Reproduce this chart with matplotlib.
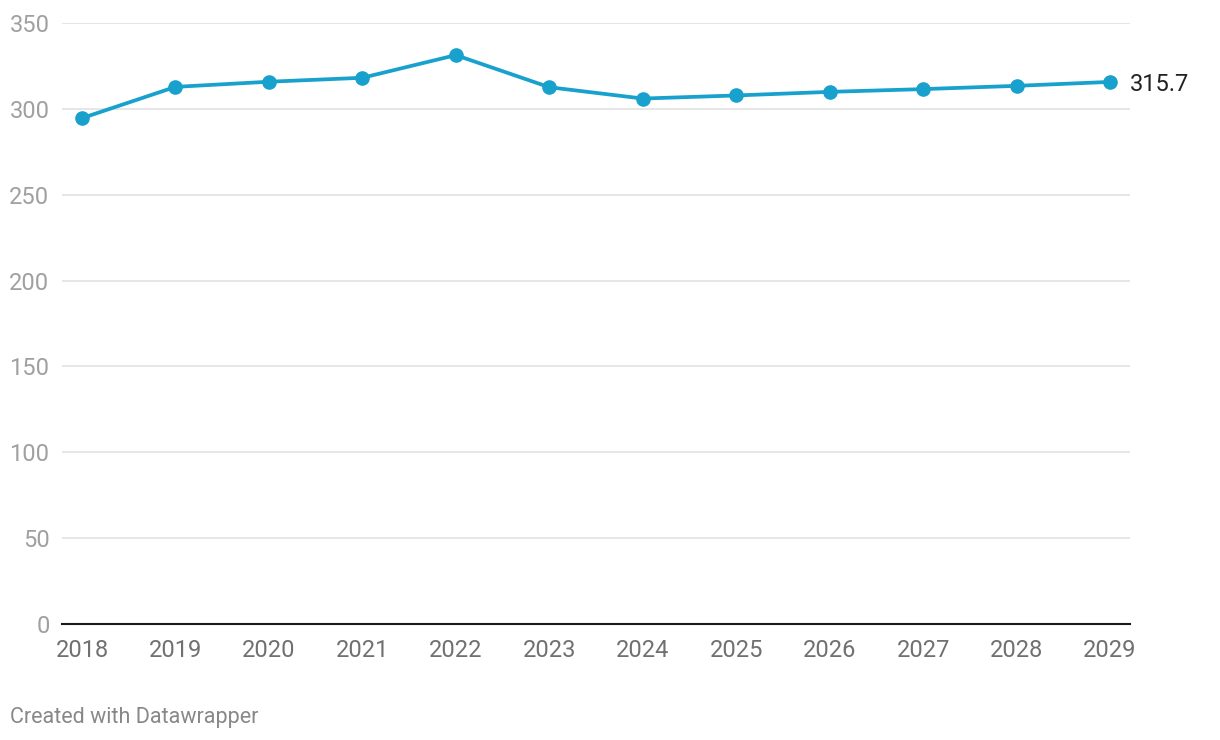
import matplotlib
matplotlib.use('Agg')
import matplotlib.pyplot as plt

plt.rcParams['font.family'] = ['Roboto', 'DejaVu Sans']

# data
years = [2018, 2019, 2020, 2021, 2022, 2023, 2024, 2025, 2026, 2027, 2028, 2029]
values = [294.6, 312.8, 315.8, 318.1, 331.3, 312.6, 306.0, 307.8, 309.9, 311.5, 313.4, 315.7]
yticks = [0, 50, 100, 150, 200, 250, 300, 350]

line_color = '#18a1cd'

fig = plt.figure(figsize=(12.2, 7.4), dpi=100)
ax = fig.add_axes([62 / 1220, 1 - 624 / 740, 1068 / 1220, 601 / 740])

ax.plot(years, values, color=line_color, lw=2.7, marker='o', ms=9.5,
        solid_capstyle='round', zorder=3, clip_on=False)

ax.set_xlim(2017.786, 2029.214)
ax.set_ylim(0, 350)
ax.set_xticks(years)
ax.set_xticklabels([str(y) for y in years])
ax.set_yticks(yticks)

for y in yticks[1:]:
    ax.axhline(y, color='#e1e1e1', lw=1.2, zorder=1)
ax.axhline(0, color='#1a1a1a', lw=1.5, zorder=2, clip_on=False)

for s in ax.spines.values():
    s.set_visible(False)

ax.tick_params(axis='y', length=0, pad=9, labelsize=17, labelcolor='#a0a0a0')
ax.tick_params(axis='x', length=0, pad=11, labelsize=17, labelcolor='#707070')

ax.annotate(f'{values[-1]:.1f}', xy=(years[-1], values[-1]), xytext=(14, -2),
            textcoords='offset points', va='center', ha='left',
            fontsize=17, color='#222222', annotation_clip=False)

fig.text(10 / 1220, 1 - 717 / 740, 'Created with Datawrapper', fontsize=15.5,
         color='#888888', va='center', ha='left')

fig.savefig('out.png', dpi=100, facecolor='white')
